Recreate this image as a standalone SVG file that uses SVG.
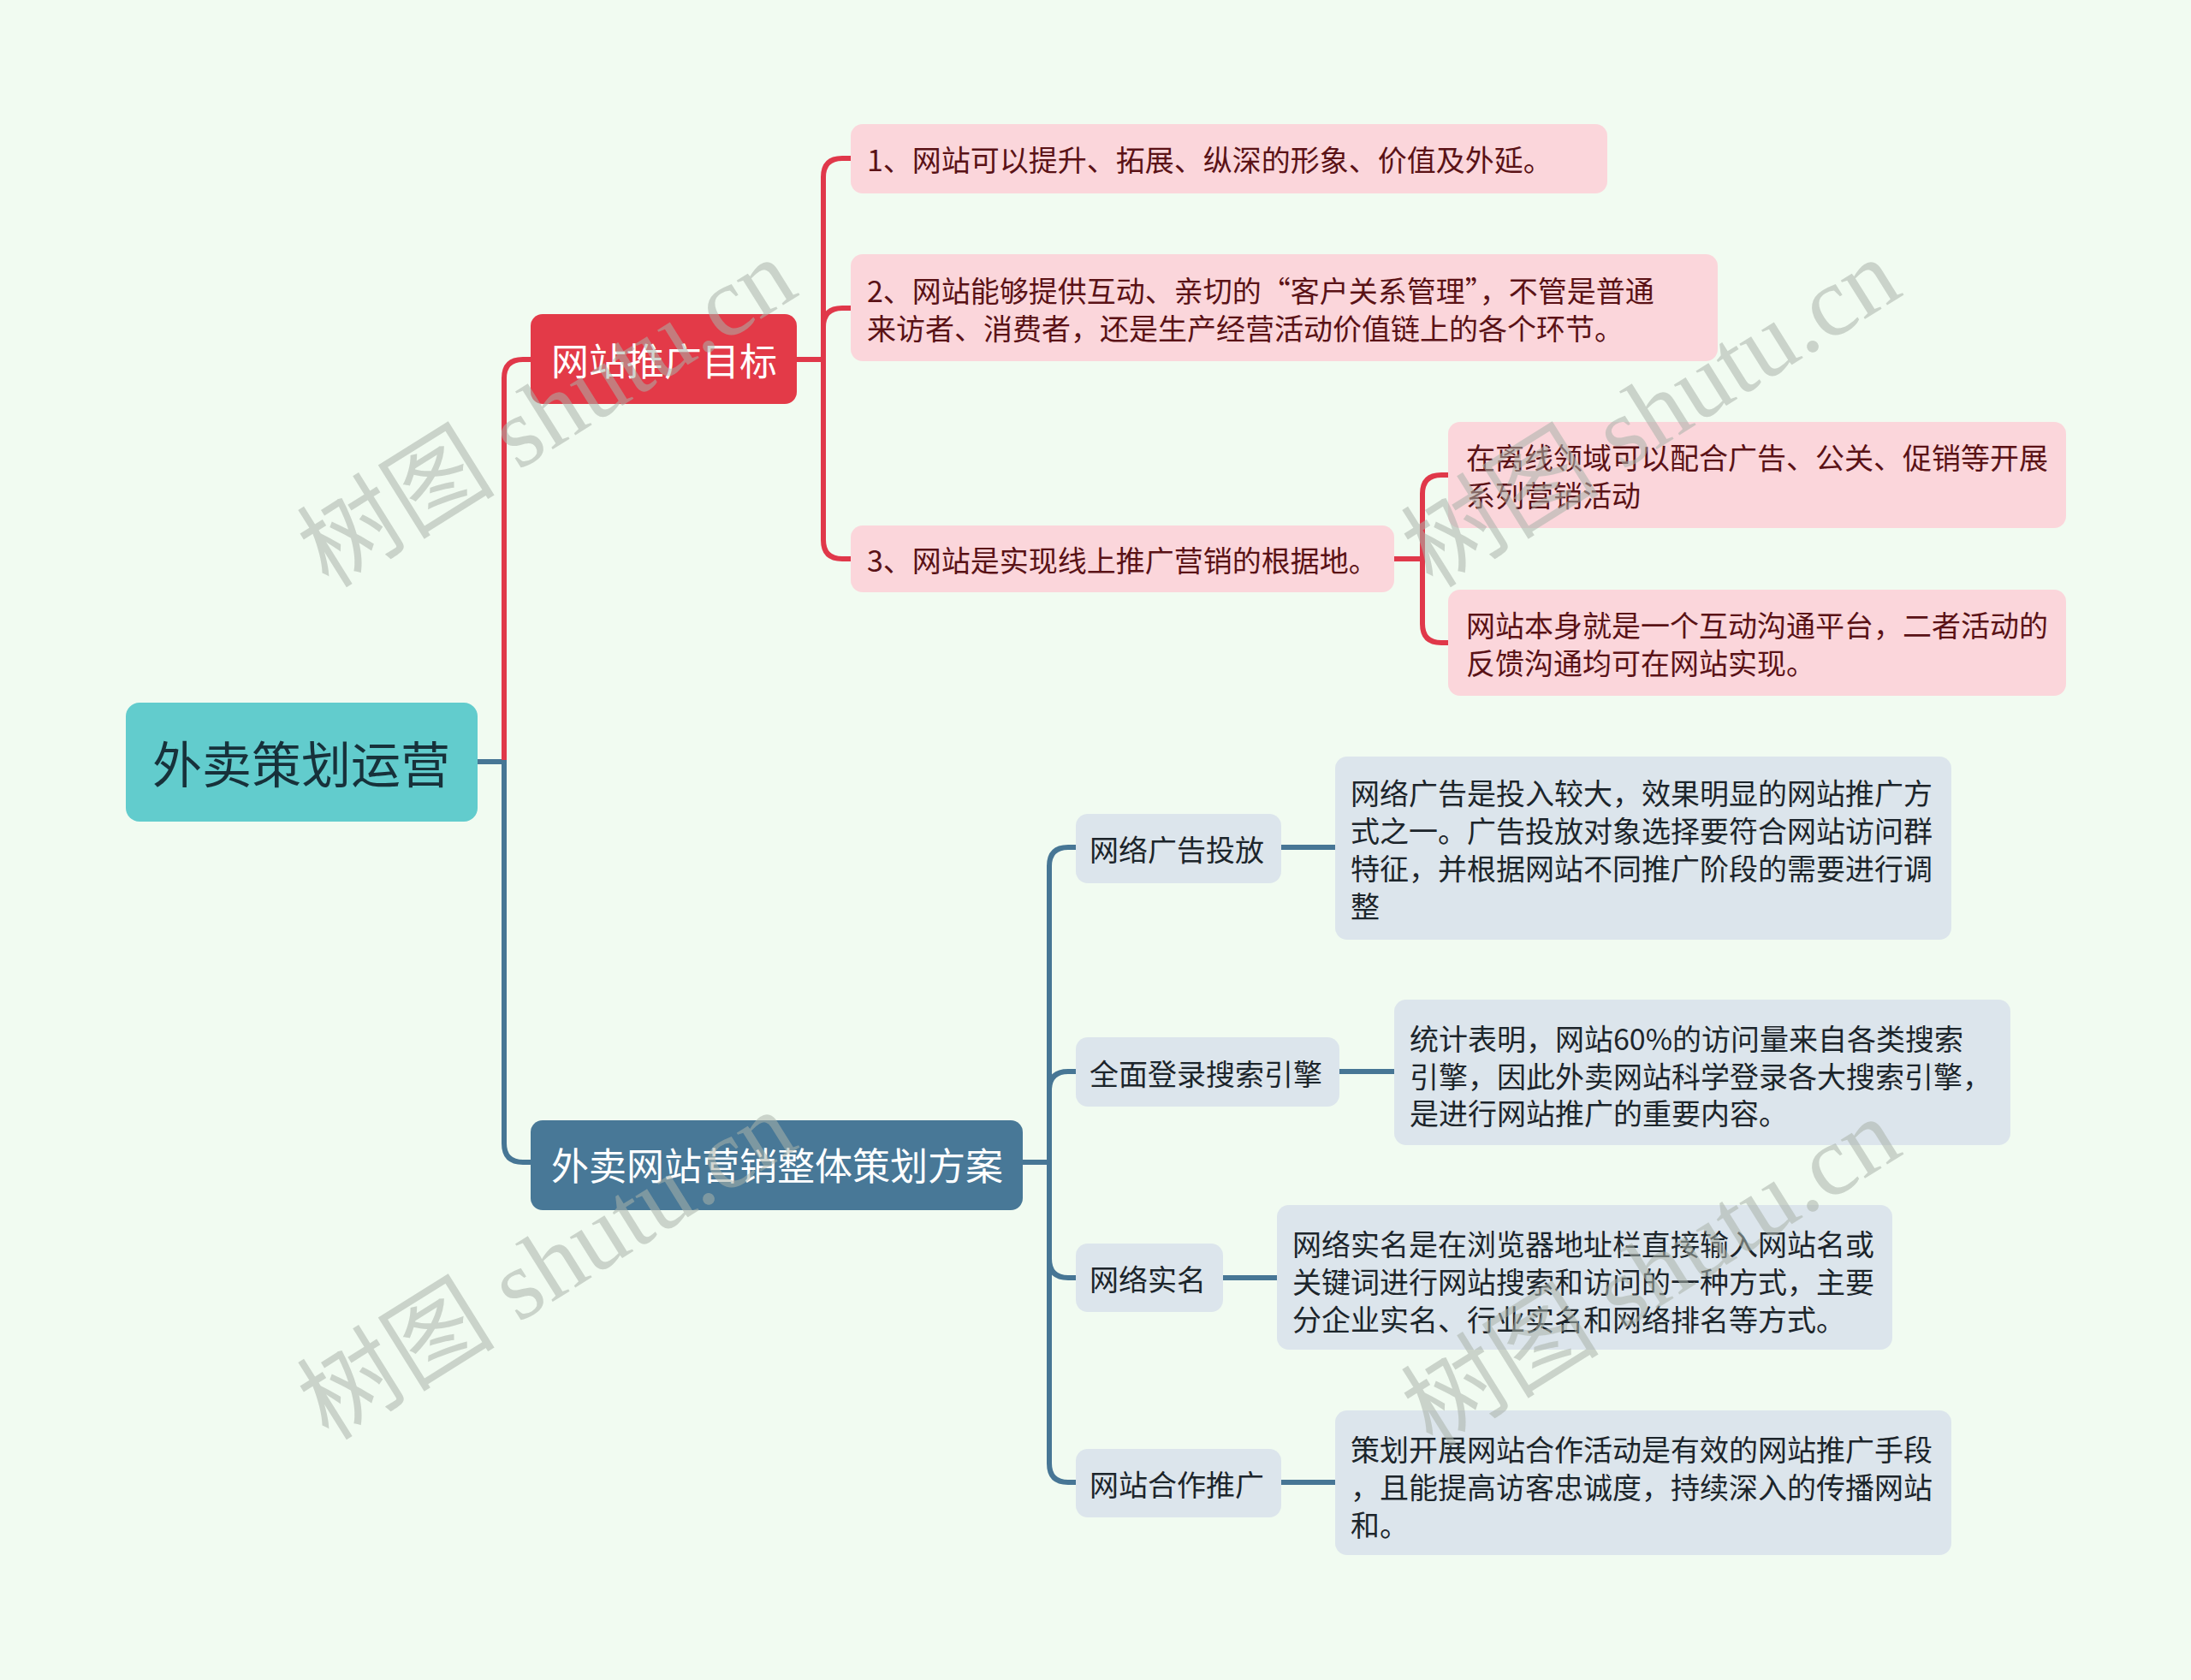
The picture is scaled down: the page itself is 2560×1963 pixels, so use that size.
<svg xmlns="http://www.w3.org/2000/svg" width="2560" height="1963" viewBox="0 0 2560 1963">
<style>
.t{font-family:"Noto Sans CJK SC","Noto Sans",sans-serif;dominant-baseline:central}
.pink rect{fill:#fbd6db}
.pink text{fill:#5a1216;font-size:34px}
.gray rect{fill:#dce5ec}
.gray text{fill:#1c252b;font-size:34px}
.red{fill:none;stroke:#e0384a;stroke-width:6}
.blue{fill:none;stroke:#477695;stroke-width:6}
.wm{font-family:"Liberation Serif","Noto Sans CJK SC",serif;font-size:116px;fill:#a9b3a9;fill-opacity:0.55}
</style>
<rect width="2560" height="1963" fill="#f1fbf1"/>
<g id="connectors">
<path class="blue" d="M558 890 H592"/>
<path class="red" d="M589 893 V442 Q589 420 611 420 H622"/>
<path class="blue" d="M589 888 V1336 Q589 1358 611 1358 H622"/>
<path class="red" d="M931 420 H962"/>
<path class="red" d="M962 420 V207 Q962 185 984 185 H996"/>
<path class="red" d="M962 420 V382 Q962 360 984 360 H996"/>
<path class="red" d="M962 420 V631 Q962 653 984 653 H996"/>
<path class="red" d="M1629 653 H1662"/>
<path class="red" d="M1662 653 V577 Q1662 555 1684 555 H1694"/>
<path class="red" d="M1662 653 V729 Q1662 751 1684 751 H1694"/>
<path class="blue" d="M1195 1358 H1226"/>
<path class="blue" d="M1226 1358 V1012 Q1226 990 1248 990 H1259"/>
<path class="blue" d="M1226 1358 V1274 Q1226 1252 1248 1252 H1259"/>
<path class="blue" d="M1226 1358 V1471 Q1226 1493 1248 1493 H1259"/>
<path class="blue" d="M1226 1358 V1710 Q1226 1732 1248 1732 H1259"/>
<path class="blue" d="M1497 990 H1562"/>
<path class="blue" d="M1565 1252 H1631"/>
<path class="blue" d="M1429 1493 H1494"/>
<path class="blue" d="M1497 1732 H1562"/>
</g>
<g id="root">
<rect x="147" y="821" width="411" height="139" rx="16" fill="#62cccd"/>
<text class="t" x="352" y="890" text-anchor="middle" font-size="58" fill="#17313a">外卖策划运营</text>
</g>
<g id="b1">
<rect x="620" y="367" width="311" height="105" rx="14" fill="#e33a48"/>
<text class="t" x="776" y="420" text-anchor="middle" font-size="44" fill="#ffffff">网站推广目标</text>
</g>
<g id="b2">
<rect x="620" y="1309" width="575" height="105" rx="14" fill="#487897"/>
<text class="t" x="908" y="1360" text-anchor="middle" font-size="44" fill="#ffffff">外卖网站营销整体策划方案</text>
</g>
<g id="c1" class="pink">
<rect x="994" y="145" width="884" height="81" rx="14"/>
<text class="t" x="1013" y="185">1、网站可以提升、拓展、纵深的形象、价值及外延。</text>
</g>
<g id="c2" class="pink">
<rect x="994" y="297" width="1013" height="125" rx="14"/>
<text class="t" x="1013" y="338">2、网站能够提供互动、亲切的“客户关系管理”，不管是普通</text>
<text class="t" x="1013" y="382">来访者、消费者，还是生产经营活动价值链上的各个环节。</text>
</g>
<g id="c3" class="pink">
<rect x="994" y="614" width="635" height="78" rx="14"/>
<text class="t" x="1013" y="653">3、网站是实现线上推广营销的根据地。</text>
</g>
<g id="gc1" class="pink">
<rect x="1692" y="493" width="722" height="124" rx="14"/>
<text class="t" x="1713" y="533">在离线领域可以配合广告、公关、促销等开展</text>
<text class="t" x="1713" y="577">系列营销活动</text>
</g>
<g id="gc2" class="pink">
<rect x="1692" y="689" width="722" height="124" rx="14"/>
<text class="t" x="1713" y="729">网站本身就是一个互动沟通平台，二者活动的</text>
<text class="t" x="1713" y="773">反馈沟通均可在网站实现。</text>
</g>
<g id="d1" class="gray">
<rect x="1257" y="951" width="240" height="81" rx="14"/>
<text class="t" x="1273" y="991">网络广告投放</text>
</g>
<g id="d1t" class="gray">
<rect x="1560" y="884" width="720" height="214" rx="14"/>
<text class="t" x="1578" y="925">网络广告是投入较大，效果明显的网站推广方</text>
<text class="t" x="1578" y="969">式之一。广告投放对象选择要符合网站访问群</text>
<text class="t" x="1578" y="1013">特征，并根据网站不同推广阶段的需要进行调</text>
<text class="t" x="1578" y="1057">整</text>
</g>
<g id="d2" class="gray">
<rect x="1257" y="1212" width="308" height="81" rx="14"/>
<text class="t" x="1273" y="1253">全面登录搜索引擎</text>
</g>
<g id="d2t" class="gray">
<rect x="1629" y="1168" width="720" height="170" rx="14"/>
<text class="t" x="1647" y="1212">统计表明，网站60%的访问量来自各类搜索</text>
<text class="t" x="1647" y="1256">引擎，因此外卖网站科学登录各大搜索引擎，</text>
<text class="t" x="1647" y="1299">是进行网站推广的重要内容。</text>
</g>
<g id="d3" class="gray">
<rect x="1257" y="1453" width="172" height="80" rx="14"/>
<text class="t" x="1273" y="1493">网络实名</text>
</g>
<g id="d3t" class="gray">
<rect x="1492" y="1408" width="719" height="169" rx="14"/>
<text class="t" x="1510" y="1452">网络实名是在浏览器地址栏直接输入网站名或</text>
<text class="t" x="1510" y="1496">关键词进行网站搜索和访问的一种方式，主要</text>
<text class="t" x="1510" y="1540">分企业实名、行业实名和网络排名等方式。</text>
</g>
<g id="d4" class="gray">
<rect x="1257" y="1693" width="240" height="80" rx="14"/>
<text class="t" x="1273" y="1733">网站合作推广</text>
</g>
<g id="d4t" class="gray">
<rect x="1560" y="1648" width="720" height="169" rx="14"/>
<text class="t" x="1578" y="1692">策划开展网站合作活动是有效的网站推广手段</text>
<text class="t" x="1578" y="1736">，且能提高访客忠诚度，持续深入的传播网站</text>
<text class="t" x="1578" y="1780">和。</text>
</g>
<g id="watermarks">
<text class="wm" text-anchor="middle" transform="translate(660 516) rotate(-32)">树图 shutu.cn</text>
<text class="wm" text-anchor="middle" transform="translate(1950 516) rotate(-32)">树图 shutu.cn</text>
<text class="wm" text-anchor="middle" transform="translate(660 1512) rotate(-32)">树图 shutu.cn</text>
<text class="wm" text-anchor="middle" transform="translate(1950 1520) rotate(-32)">树图 shutu.cn</text>
</g>
</svg>
